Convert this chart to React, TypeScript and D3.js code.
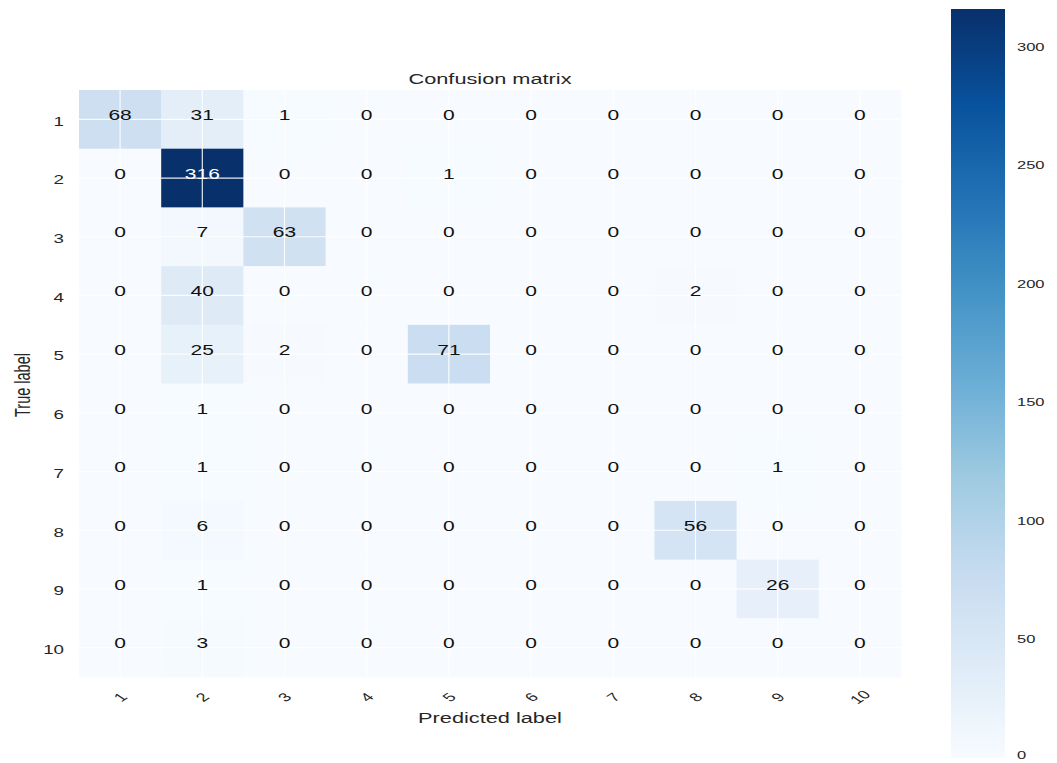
import React from "react";
import * as d3 from "d3";

// Class labels for both axes
const classLabels: string[] = ["1", "2", "3", "4", "5", "6", "7", "8", "9", "10"];

// Rows: true label, columns: predicted label
const row1: number[] = [68, 31, 1, 0, 0, 0, 0, 0, 0, 0];
const row2: number[] = [0, 316, 0, 0, 1, 0, 0, 0, 0, 0];
const row3: number[] = [0, 7, 63, 0, 0, 0, 0, 0, 0, 0];
const row4: number[] = [0, 40, 0, 0, 0, 0, 0, 2, 0, 0];
const row5: number[] = [0, 25, 2, 0, 71, 0, 0, 0, 0, 0];
const row6: number[] = [0, 1, 0, 0, 0, 0, 0, 0, 0, 0];
const row7: number[] = [0, 1, 0, 0, 0, 0, 0, 0, 1, 0];
const row8: number[] = [0, 6, 0, 0, 0, 0, 0, 56, 0, 0];
const row9: number[] = [0, 1, 0, 0, 0, 0, 0, 0, 26, 0];
const row10: number[] = [0, 3, 0, 0, 0, 0, 0, 0, 0, 0];
const matrix: number[][] = [row1, row2, row3, row4, row5, row6, row7, row8, row9, row10];

const colorbarTicks: number[] = [0, 50, 100, 150, 200, 250, 300];

// ColorBrewer Blues, linearly interpolated
const bluesStops = ["#f7fbff", "#deebf7", "#c6dbef", "#9ecae1", "#6baed6", "#4292c6", "#2171b5", "#08519c", "#08306b"];

const W = 1057;
const H = 763;
const plot = { left: 79, right: 901, top: 90, bottom: 677 };
const cbar = { left: 951, right: 1005, top: 9, bottom: 758 };
const font = "'Liberation Sans', Arial, sans-serif";
const labelColor = "#262626";
// the whole figure is drawn horizontally widened
const SX = 1.5;

type TProps = {
  x: number;
  y: number;
  rotate?: number;
  anchor?: "start" | "middle" | "end";
  size: number;
  fill: string;
  children: React.ReactNode;
};

function WideText({ x, y, rotate = 0, anchor = "middle", size, fill, children }: TProps) {
  return (
    <text
      transform={`translate(${x},${y}) scale(${SX},1) rotate(${rotate})`}
      textAnchor={anchor}
      dominantBaseline="central"
      fontSize={size}
      fill={fill}
    >
      {children}
    </text>
  );
}

export default function App() {
  const vmax = d3.max(matrix.flat()) as number;
  const color = d3
    .scaleLinear<string>()
    .domain(bluesStops.map((_, i) => (i / (bluesStops.length - 1)) * vmax))
    .range(bluesStops)
    .interpolate(d3.interpolateRgb)
    .clamp(true);

  const x = d3.scaleBand<string>().domain(classLabels).range([plot.left, plot.right]).padding(0);
  const y = d3.scaleBand<string>().domain(classLabels).range([plot.top, plot.bottom]).padding(0);
  const cbY = d3.scaleLinear().domain([0, vmax]).range([cbar.bottom, cbar.top]);

  const thresh = vmax / 2;
  const cx = (c: string) => (x(c) as number) + x.bandwidth() / 2;
  const cy = (r: string) => (y(r) as number) + y.bandwidth() / 2;
  const midX = (plot.left + plot.right) / 2;

  return (
    <svg
      width={W}
      height={H}
      style={{ position: "absolute", left: 0, top: 0, display: "block", background: "#fff" }}
      fontFamily={font}
    >
      <defs>
        <linearGradient id="cbar-grad" x1="0" y1="1" x2="0" y2="0">
          {bluesStops.map((c, i) => (
            <stop key={i} offset={`${(i / (bluesStops.length - 1)) * 100}%`} stopColor={c} />
          ))}
        </linearGradient>
      </defs>

      {/* heatmap cells */}
      {matrix.map((row, ri) =>
        row.map((v, ci) => (
          <rect
            key={`${ri}-${ci}`}
            x={x(classLabels[ci])}
            y={y(classLabels[ri])}
            width={x.bandwidth() + 0.5}
            height={y.bandwidth() + 0.5}
            fill={color(v)}
          />
        ))
      )}

      {/* white grid lines through cell centres */}
      {classLabels.map((c) => (
        <line key={`gx-${c}`} x1={cx(c)} x2={cx(c)} y1={plot.top} y2={plot.bottom} stroke="#fff" strokeWidth={1.2} opacity={0.9} />
      ))}
      {classLabels.map((r) => (
        <line key={`gy-${r}`} y1={cy(r)} y2={cy(r)} x1={plot.left} x2={plot.right} stroke="#fff" strokeWidth={1.2} opacity={0.9} />
      ))}

      {/* cell annotations */}
      {matrix.map((row, ri) =>
        row.map((v, ci) => (
          <WideText
            key={`t-${ri}-${ci}`}
            x={cx(classLabels[ci])}
            y={cy(classLabels[ri]) - 4}
            size={14}
            fill={v > thresh ? "#ffffff" : "#111111"}
          >
            {v}
          </WideText>
        ))
      )}

      {/* y tick labels */}
      {classLabels.map((r) => (
        <WideText key={`yl-${r}`} x={64} y={cy(r) + 2} anchor="end" size={12.5} fill={labelColor}>
          {r}
        </WideText>
      ))}

      {/* x tick labels, rotated */}
      {classLabels.map((c) => (
        <WideText key={`xl-${c}`} x={cx(c)} y={697} rotate={-45} size={12} fill={labelColor}>
          {c}
        </WideText>
      ))}

      {/* titles */}
      <WideText x={midX} y={79} size={14.5} fill={labelColor}>
        Confusion matrix
      </WideText>
      <WideText x={midX} y={718} size={14.5} fill={labelColor}>
        Predicted label
      </WideText>
      <WideText x={22} y={385} rotate={-90} size={14.5} fill={labelColor}>
        True label
      </WideText>

      {/* colorbar */}
      <rect
        x={cbar.left}
        y={cbar.top}
        width={cbar.right - cbar.left}
        height={cbar.bottom - cbar.top}
        fill="url(#cbar-grad)"
      />
      {colorbarTicks.map((t) => (
        <WideText key={`cb-${t}`} x={1017} y={Math.min(cbY(t), 755)} anchor="start" size={11} fill={labelColor}>
          {t}
        </WideText>
      ))}
    </svg>
  );
}
